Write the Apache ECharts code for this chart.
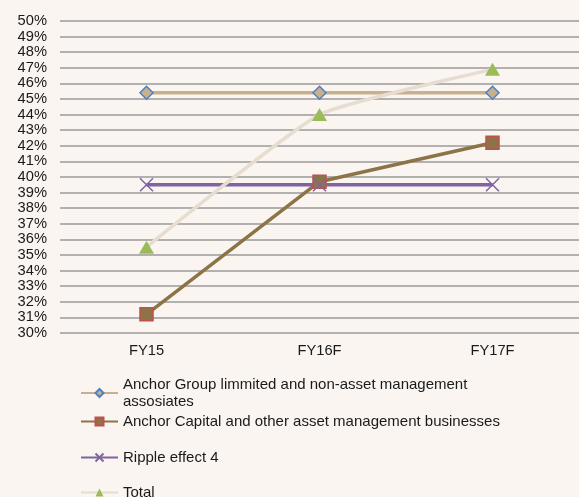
<!DOCTYPE html>
<html>
<head>
<meta charset="utf-8">
<script src="https://cdn.jsdelivr.net/npm/echarts@6/dist/echarts.min.js"></script>
<style>
  html, body { margin: 0; padding: 0; background: #faf5f1; }
  #main { width: 579px; height: 497px; }
</style>
</head>
<body>
<div id="main"></div>
<script>
// categories and values (percent)
var categories = ['FY15', 'FY16F', 'FY17F'];
var anchorGroup = [45.4, 45.4, 45.4];
var anchorCapital = [31.2, 39.7, 42.2];
var ripple = [39.5, 39.5, 39.5];
var total = [35.5, 44.0, 46.9];

var names = [
  'Anchor Group limmited and non-asset management assosiates',
  'Anchor Capital and other asset management businesses',
  'Ripple effect 4',
  'Total'
];

var chart = echarts.init(document.getElementById('main'));

var crossPath = 'path://M0,0 L10,10 M10,0 L0,10';

function legendAt(name, top) {
  return {
    data: [name],
    left: 80,
    top: top,
    orient: 'vertical',
    padding: 0,
    itemWidth: 37,
    itemHeight: 10,
    itemGap: 0,
    selectedMode: false,
    textStyle: { fontFamily: 'Liberation Sans, Arial', fontSize: 15, color: '#1a1a1a', lineHeight: 17 },
    formatter: function (n) {
      if (n === names[0]) return 'Anchor Group limmited and non-asset management\nassosiates';
      return n;
    }
  };
}

chart.setOption({
  backgroundColor: '#faf5f1',
  animation: false,
  grid: { left: 60, right: 0, top: 21, bottom: 164 },
  legend: [
    legendAt(names[0], 376),
    legendAt(names[1], 413),
    legendAt(names[2], 449),
    legendAt(names[3], 484)
  ],
  xAxis: {
    type: 'category',
    data: categories,
    axisLine: { show: false },
    axisTick: { show: false },
    axisLabel: { margin: 10, fontFamily: 'Liberation Sans, Arial', fontSize: 14.7, color: '#1a1a1a' }
  },
  yAxis: {
    type: 'value',
    min: 30,
    max: 50,
    interval: 1,
    axisLine: { show: false },
    axisTick: { show: false },
    axisLabel: { formatter: '{value}%', margin: 13, fontFamily: 'Liberation Sans, Arial', fontSize: 14.7, color: '#1a1a1a' },
    splitLine: { lineStyle: { color: '#9a9a9a', width: 1.5 } }
  },
  series: [
    {
      name: names[0],
      type: 'line',
      data: anchorGroup,
      symbol: 'diamond',
      symbolSize: 13,
      lineStyle: { color: '#c8b08d', width: 3.5 },
      itemStyle: { color: '#c8b08d', borderColor: '#4f81bd', borderWidth: 1.5 }
    },
    {
      name: names[1],
      type: 'line',
      data: anchorCapital,
      symbol: 'rect',
      symbolSize: 13,
      lineStyle: { color: '#8c7447', width: 3.5 },
      itemStyle: { color: '#8c7447', borderColor: '#c0504d', borderWidth: 1.5 }
    },
    {
      name: names[2],
      type: 'line',
      data: ripple,
      symbol: crossPath,
      symbolSize: 13,
      lineStyle: { color: '#8064a2', width: 3.5 },
      itemStyle: { color: 'none', borderColor: '#8064a2', borderWidth: 1.5 }
    },
    {
      name: names[3],
      type: 'line',
      data: total,
      symbol: 'triangle',
      symbolSize: [15, 13],
      smooth: 0.15,
      lineStyle: { color: '#e6ddd0', width: 3.5 },
      itemStyle: { color: '#9bbb59', borderWidth: 0 }
    }
  ]
});
</script>
</body>
</html>
